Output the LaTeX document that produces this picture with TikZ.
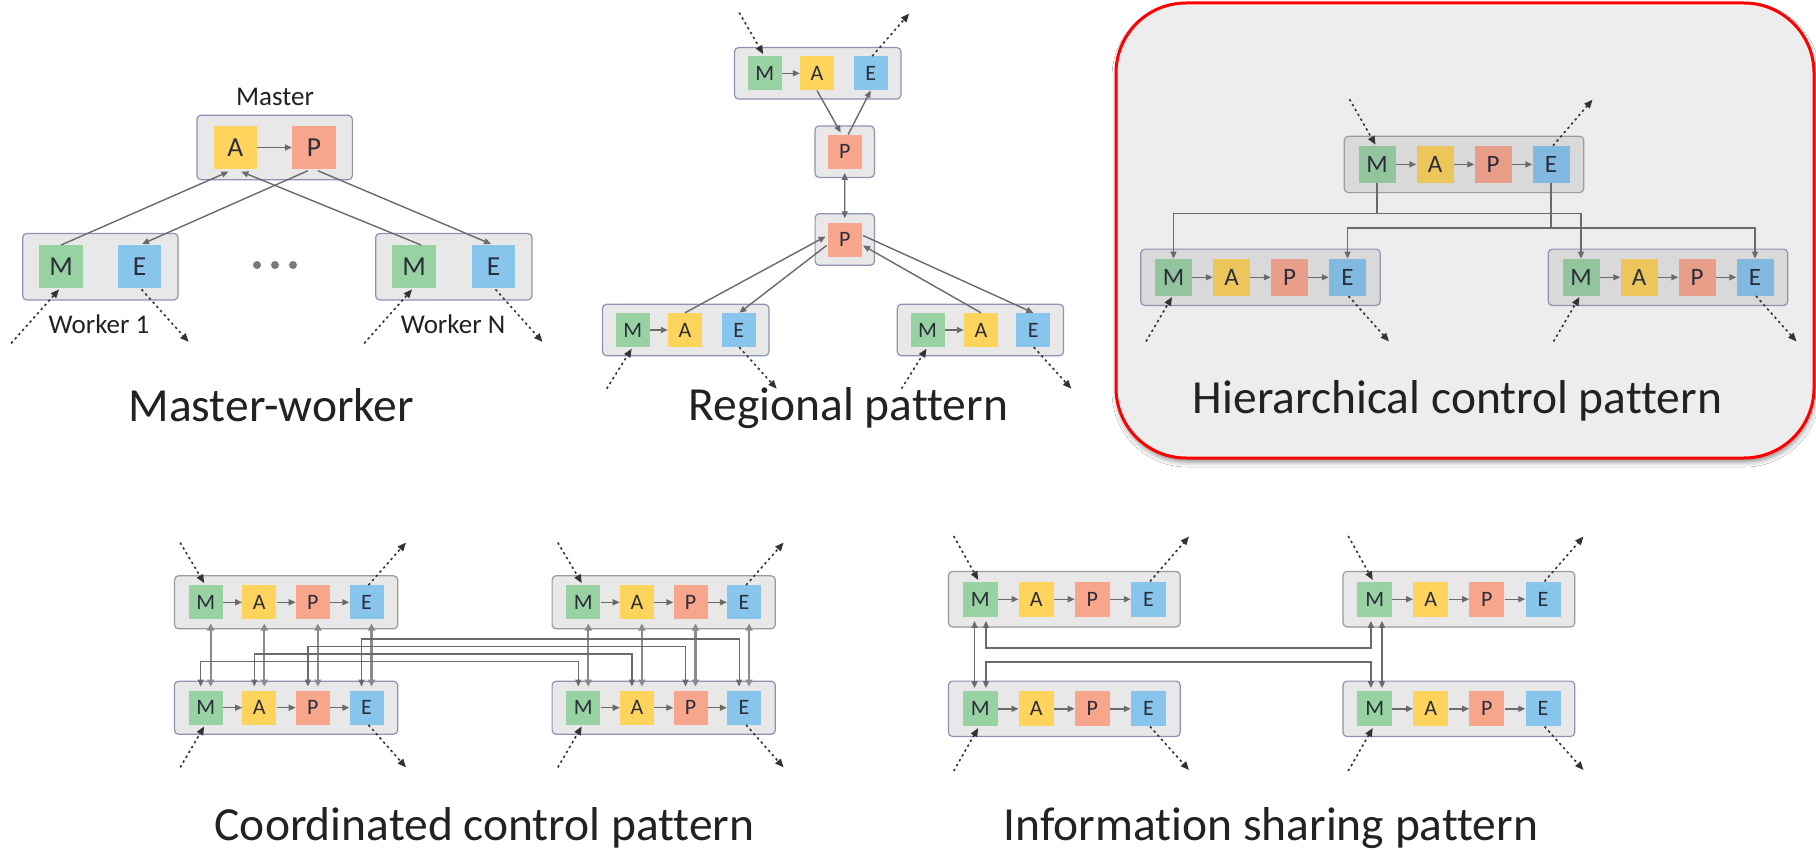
\documentclass[tikz,border=0pt]{standalone}
\usepackage{fontspec}
\setmainfont{Carlito}[Ligatures=NoCommon]
\usetikzlibrary{arrows.meta,calc,fit,shadows.blur}
\pgfdeclarelayer{panel}
\pgfdeclarelayer{boxes}
\pgfsetlayers{panel,boxes,main}

% square colours (bright set and the muted set of the highlighted panel)
\definecolor{cM}{HTML}{98D2A3}
\definecolor{cA}{HTML}{FFD45C}
\definecolor{cP}{HTML}{F7A68C}
\definecolor{cE}{HTML}{87C5EC}
\definecolor{hM}{HTML}{92C59E}
\definecolor{hA}{HTML}{EDC65B}
\definecolor{hP}{HTML}{E79D88}
\definecolor{hE}{HTML}{81B9E0}
\definecolor{boxfill}{HTML}{E8E8E8}
\definecolor{hboxfill}{HTML}{D9D9D9}
\definecolor{boxline}{HTML}{9B9B9B}
\definecolor{boxlineb}{HTML}{8D93B2}
\definecolor{panelfill}{HTML}{EDEDED}
\definecolor{link}{HTML}{6A6A6A}
\definecolor{dbllink}{HTML}{8A8A8A}
\definecolor{ink}{HTML}{222222}
\definecolor{letter}{HTML}{2B2D3A}
\definecolor{dotc}{HTML}{333333}

\tikzset{
  sqbase/.style={inner sep=0pt, text=letter},
  sqR/.style={sqbase, minimum size=34pt, font=\fontsize{22}{22}\selectfont},
  sqI/.style={sqbase, minimum size=35pt, font=\fontsize{22}{22}\selectfont},
  sqH/.style={sqbase, minimum size=37pt, font=\fontsize{25}{25}\selectfont},
  sqW/.style={sqbase, minimum width=43.5pt, minimum height=43pt, font=\fontsize{27.5}{27.5}\selectfont},
  mbox/.style n args={2}{draw=boxline, fill=boxfill, line width=1.2pt, rounded corners=4pt, inner xsep=#1, inner ysep=#2},
  mboxb/.style n args={2}{mbox={#1}{#2}, draw=boxlineb},
  tip/.tip={Triangle[length=7pt,width=6pt]},
  flow/.style={draw=link, line width=1.4pt, -tip},
  dflow/.style={draw=link, line width=1.4pt, tip-tip},
  dbl/.style={draw=dbllink, line width=2.2pt, {Triangle[length=7pt,width=7pt]}-{Triangle[length=7pt,width=7pt]}},
  lnk/.style={draw=link, line width=1.2pt, tip-tip},
  ilnk/.style={draw=link, line width=1.7pt, tip-tip},
  dotarr/.style={draw=dotc, line width=1.6pt, dash pattern=on 2.4pt off 3.2pt, -{Triangle[length=8.5pt,width=7pt]}},
  title/.style={anchor=base, inner sep=0pt, text=ink, font=\fontsize{47.5}{57}\selectfont},
  sub/.style={anchor=base, inner sep=0pt, text=ink, font=\fontsize{27}{30}\selectfont},
  ellip/.style={circle, fill=link!90, minimum size=8pt, inner sep=0pt},
  panelbox/.style={draw=red, line width=3pt, fill=panelfill, rounded corners=70pt,
    minimum width=698pt, minimum height=455pt,
    blur shadow={shadow xshift=1pt, shadow yshift=-4pt, shadow opacity=45, shadow blur radius=5pt}},
}

\begin{document}
\begin{tikzpicture}[x=1pt, y=-1pt]
\useasboundingbox (0,0) rectangle (1816,851);

\begin{pgfonlayer}{panel}
  \fill[white] (0,0) rectangle (1816,851);
  \node[panelbox] (hpanel) at (1465,230.5) {};
\end{pgfonlayer}

% ===================== Master-worker =====================
\node[sqW, fill=cA] (mA) at (235.4,147.5) {A};
\node[sqW, fill=cP] (mP) at (313.9,147.5) {P};
\node[sqW, fill=cM] (w1M) at (61.1,266.7) {M};
\node[sqW, fill=cE] (w1E) at (139.6,266.7) {E};
\node[sqW, fill=cM] (wNM) at (414.1,266.7) {M};
\node[sqW, fill=cE] (wNE) at (493.5,266.7) {E};
\begin{pgfonlayer}{boxes}
  \node[mboxb={16.5pt}{10.5pt}, fit=(mA)(mP)] (master) {};
  \node[mboxb={16.5pt}{11.5pt}, fit=(w1M)(w1E)] (worker1) {};
  \node[mboxb={16.5pt}{11.5pt}, fit=(wNM)(wNE)] (workerN) {};
\end{pgfonlayer}
\node[sub] (lmaster) at (275,105) {Master};
\node[sub] (lw1) at (99,333.3) {Worker 1};
\node[sub] (lwN) at (453,333.3) {Worker N};
\node[ellip] (dot1) at (257,265) {};
\node[ellip] (dot2) at (275,265) {};
\node[ellip] (dot3) at (293,265) {};

\draw[flow] (mA) -- (mP);
\draw[flow] (w1M.north) -- ($(mA.south)+(-7,2.5)$);
\draw[flow] ($(mP.south)+(-6,1.5)$) -- ($(w1E.north)+(2.5,-1)$);
\draw[flow] ($(wNM.north)+(7,0)$) -- ($(mA.south)+(6,2.5)$);
\draw[flow] ($(mP.south)+(4,1.5)$) -- ($(wNE.north)+(-2.5,-1)$);
\foreach \r in {w1,wN} {
  \draw[dotarr] ($(\r M.south)+(-50,55)$) -- ($(\r M.south)+(-2,1)$);
  \draw[dotarr] ($(\r E.south)+(2,1)$) -- ($(\r E.south)+(49,53.5)$);
}
\node[title] (tmw) at (271.3,421.7) {Master-worker};

% ===================== Regional pattern =====================
\node[sqR, fill=cM] (rTM) at (764.7,73.3) {M};
\node[sqR, fill=cA] (rTA) at (817,73.3) {A};
\node[sqR, fill=cE] (rTE) at (870.7,73.3) {E};
\node[sqR, fill=cP] (rP1) at (844.7,151.7) {P};
\node[sqR, fill=cP] (rP2) at (844.8,239.5) {P};
\node[sqR, fill=cM] (rLM) at (632.7,330) {M};
\node[sqR, fill=cA] (rLA) at (685,330) {A};
\node[sqR, fill=cE] (rLE) at (738.7,330) {E};
\node[sqR, fill=cM] (rRM) at (927.5,330) {M};
\node[sqR, fill=cA] (rRA) at (981,330) {A};
\node[sqR, fill=cE] (rRE) at (1033.3,330) {E};
\begin{pgfonlayer}{boxes}
  \node[mboxb={13pt}{8.5pt}, fit=(rTM)(rTE)] (rT) {};
  \node[mboxb={12.5pt}{8.5pt}, fit=(rP1)] (rB1) {};
  \node[mboxb={12.5pt}{8.5pt}, fit=(rP2)] (rB2) {};
  \node[mboxb={13pt}{8.5pt}, fit=(rLM)(rLE)] (rL) {};
  \node[mboxb={13pt}{8.5pt}, fit=(rRM)(rRE)] (rR) {};
\end{pgfonlayer}
\draw[flow] (rTM) -- (rTA);
\draw[flow] (rLM) -- (rLA);
\draw[flow] (rRM) -- (rRA);
\draw[flow] (rTA.south) -- ($(rP1.north)+(-4,-2)$);
\draw[flow] ($(rP1.north)+(3.5,0)$) -- (rTE.south);
\draw[dflow, shorten <=4pt, shorten >=4pt] (rP1.south) -- (rP2.north);
\draw[flow] (rLA.north) -- ($(rP2.west)+(-2,-3)$);
\draw[flow] ($(rP2.west)+(-1,6)$) -- ($(rLE.north)+(0.6,0)$);
\draw[flow] (rRA.north) -- ($(rP2.east)+(1,6)$);
\draw[flow] ($(rP2.east)+(1,-4)$) -- (rRE.north);
\draw[dotarr] ($(rTM.north)+(-25.5,-43.5)$) -- ($(rTM.north)+(-1.5,-2)$);
\draw[dotarr] ($(rTE.north)+(1.5,0)$) -- ($(rTE.north)+(38.5,-42.5)$);
\foreach \r in {rL,rR} {
  \draw[dotarr] ($(\r M.south)+(-26,41.5)$) -- ($(\r M.south)+(-1,1.5)$);
  \draw[dotarr] ($(\r E.south)+(0.5,0)$) -- ($(\r E.south)+(38,41.5)$);
}
\node[title] (trg) at (848.4,420.7) {Regional pattern};

% ===================== Hierarchical control pattern =====================
\foreach \L/\k in {M/0,A/1,P/2,E/3} {
  \node[sqH, fill=h\L] (hT\L) at ({1377+58*\k},164.4) {\L};
  \node[sqH, fill=h\L] (hL\L) at ({1173.5+58*\k},277.3) {\L};
  \node[sqH, fill=h\L] (hR\L) at ({1581+58*\k},277.3) {\L};
}
\begin{pgfonlayer}{boxes}
  \node[mbox={14pt}{9.5pt}, fill=hboxfill, fit=(hTM)(hTE)] (hT) {};
  \node[mboxb={14pt}{9.5pt}, fill=hboxfill, fit=(hLM)(hLE)] (hL) {};
  \node[mboxb={14pt}{9.5pt}, fill=hboxfill, fit=(hRM)(hRE)] (hR) {};
\end{pgfonlayer}
\foreach \r in {hT,hL,hR} {
  \draw[flow] (\r M) -- (\r A);
  \draw[flow] (\r A) -- (\r P);
  \draw[flow] (\r P) -- (\r E);
}
\coordinate (hyM) at (0,213.5);
\coordinate (hyE) at (0,228);
\draw[draw=link, line width=1.4pt] (hTM.south) -- (hTM.south |- hyM);
\draw[flow] (hTM.south |- hyM) -| (hLM.north);
\draw[flow] (hTM.south |- hyM) -| (hRM.north);
\draw[draw=link, line width=1.4pt] (hTE.south) -- (hTE.south |- hyE);
\draw[flow] (hTE.south |- hyE) -| (hLE.north);
\draw[flow] (hTE.south |- hyE) -| (hRE.north);
\draw[dotarr] ($(hTM.north)+(-27.5,-46.5)$) -- ($(hTM.north)+(-1.5,-1)$);
\draw[dotarr] ($(hTE.north)+(2,0)$) -- ($(hTE.north)+(41.5,-46)$);
\foreach \r in {hL,hR} {
  \draw[dotarr] ($(\r M.south)+(-27.5,45.5)$) -- ($(\r M.south)+(-1.5,1)$);
  \draw[dotarr] ($(\r E.south)+(1,0)$) -- ($(\r E.south)+(41.5,45.5)$);
}
\node[title] (thc) at (1457.5,413.3) {Hierarchical control pattern};

% ===================== Coordinated control pattern =====================
\foreach \L/\k in {M/0,A/1,P/2,E/3} {
  \node[sqR, fill=c\L] (cTL\L) at ({205.7+53.6*\k},602.3) {\L};
  \node[sqR, fill=c\L] (cBL\L) at ({205.7+53.6*\k},707.7) {\L};
  \node[sqR, fill=c\L] (cTR\L) at ({583.3+53.6*\k},602.3) {\L};
  \node[sqR, fill=c\L] (cBR\L) at ({583.3+53.6*\k},707.7) {\L};
}
\begin{pgfonlayer}{boxes}
  \node[mbox={14pt}{9.3pt}, fit=(cTLM)(cTLE)] (cTL) {};
  \node[mboxb={14pt}{9.3pt}, fit=(cBLM)(cBLE)] (cBL) {};
  \node[mbox={14pt}{9.3pt}, fit=(cTRM)(cTRE)] (cTR) {};
  \node[mboxb={14pt}{9.3pt}, fit=(cBRM)(cBRE)] (cBR) {};
\end{pgfonlayer}
\foreach \r in {cTL,cBL,cTR,cBR} {
  \draw[flow] (\r M) -- (\r A);
  \draw[flow] (\r A) -- (\r P);
  \draw[flow] (\r P) -- (\r E);
}
\foreach \L in {M,A,P,E} {
  \draw[dbl] ($(cTL\L.south)+(5,4)$) -- ($(cBL\L.north)+(5,-4)$);
  \draw[dbl] ($(cTR\L.south)+(5,4)$) -- ($(cBR\L.north)+(5,-4)$);
}
\foreach \L/\y in {M/661.7,A/654,P/646.7,E/639} {
  \coordinate (lv) at (0,\y);
  \coordinate (ls) at ($(cBL\L.north)+(-5,-4)$);
  \coordinate (le) at ($(cBR\L.north)+(-5,-4)$);
  \draw[lnk] (ls) -- (ls |- lv) -| (le);
}
\foreach \r in {cTL,cTR} {
  \draw[dotarr] ($(\r M.north)+(-25.5,-42.5)$) -- ($(\r M.north)+(-1.5,-2)$);
  \draw[dotarr] ($(\r E.north)+(2,0)$) -- ($(\r E.north)+(39.5,-42.5)$);
}
\foreach \r in {cBL,cBR} {
  \draw[dotarr] ($(\r M.south)+(-25.5,42.5)$) -- ($(\r M.south)+(-1.5,1.5)$);
  \draw[dotarr] ($(\r E.south)+(2,0)$) -- ($(\r E.south)+(39.5,42.5)$);
}
\node[title] (tcc) at (484.6,840) {Coordinated control pattern};

% ===================== Information sharing pattern =====================
\foreach \L/\k in {M/0,A/1,P/2,E/3} {
  \node[sqI, fill=c\L] (iTL\L) at ({980.2+56.1*\k},599.2) {\L};
  \node[sqI, fill=c\L] (iBL\L) at ({980.2+56.1*\k},708.8) {\L};
  \node[sqI, fill=c\L] (iTR\L) at ({1374.7+56.1*\k},599.2) {\L};
  \node[sqI, fill=c\L] (iBR\L) at ({1374.7+56.1*\k},708.8) {\L};
}
\begin{pgfonlayer}{boxes}
  \node[mbox={14pt}{10pt}, fit=(iTLM)(iTLE)] (iTL) {};
  \node[mboxb={14pt}{10pt}, fit=(iBLM)(iBLE)] (iBL) {};
  \node[mbox={14pt}{10pt}, fit=(iTRM)(iTRE)] (iTR) {};
  \node[mboxb={14pt}{10pt}, fit=(iBRM)(iBRE)] (iBR) {};
\end{pgfonlayer}
\foreach \r in {iTL,iBL,iTR,iBR} {
  \draw[flow] (\r M) -- (\r A);
  \draw[flow] (\r A) -- (\r P);
  \draw[flow] (\r P) -- (\r E);
}
\draw[ilnk] ($(iTLM.south)+(-5.7,4)$) -- ($(iBLM.north)+(-5.7,-3)$);
\draw[ilnk] ($(iTRM.south)+(7.3,4)$) -- ($(iBRM.north)+(7.3,-3)$);
\coordinate (iy1) at (0,648.3);
\coordinate (iy2) at (0,661.7);
\coordinate (ia1) at ($(iTLM.south)+(5.8,4)$);
\coordinate (ib1) at ($(iTRM.south)+(-3.8,4)$);
\draw[ilnk] (ia1) -- (ia1 |- iy1) -| (ib1);
\coordinate (ia2) at ($(iBLM.north)+(5.8,-3)$);
\coordinate (ib2) at ($(iBRM.north)+(-3.8,-3)$);
\draw[ilnk] (ia2) -- (ia2 |- iy2) -| (ib2);
\foreach \r in {iTL,iTR} {
  \draw[dotarr] ($(\r M.north)+(-26.5,-45.5)$) -- ($(\r M.north)+(-2,-1.5)$);
  \draw[dotarr] ($(\r E.north)+(1.5,0)$) -- ($(\r E.north)+(40.5,-45)$);
}
\foreach \r in {iBL,iBR} {
  \draw[dotarr] ($(\r M.south)+(-26.5,44.5)$) -- ($(\r M.south)+(-2,1.5)$);
  \draw[dotarr] ($(\r E.south)+(1.5,0)$) -- ($(\r E.south)+(40.5,43.5)$);
}
\node[title] (tis) at (1271,840) {Information sharing pattern};

\end{tikzpicture}
\end{document}
